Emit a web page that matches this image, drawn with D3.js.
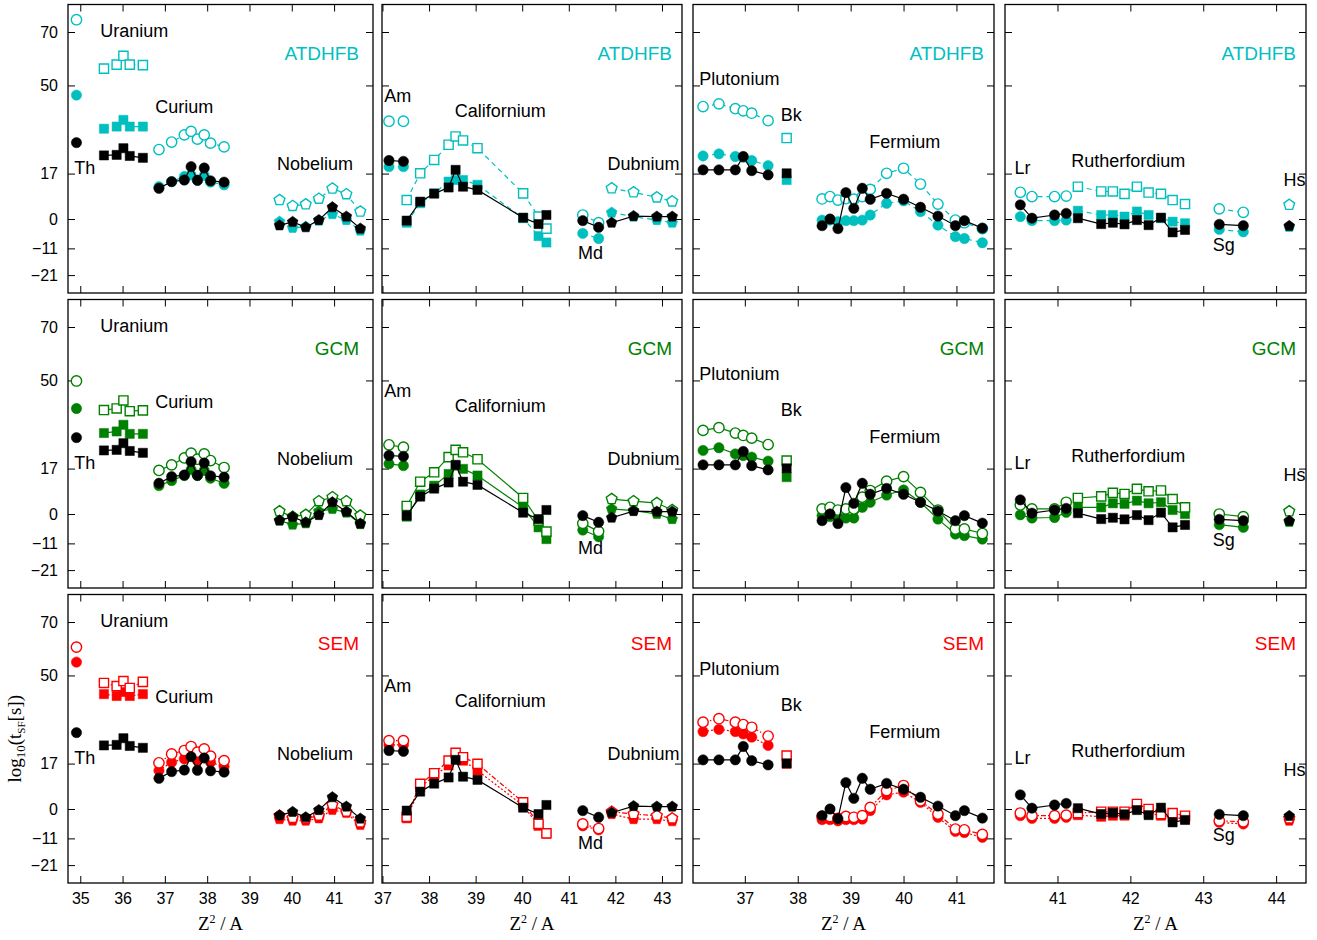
<!DOCTYPE html>
<html>
<head>
<meta charset="utf-8">
<script src="https://cdn.jsdelivr.net/npm/d3@7"></script>
<style>
body { margin: 0; background: #fff; }
svg { display: block; }
text { font-family: "Liberation Sans", Arial, Helvetica, sans-serif; fill: #000; }
.serif { font-family: "Liberation Serif", "Times New Roman", serif; }
</style>
</head>
<body>
<svg width="1317" height="940"></svg>
<script>
// x = Z^2/A of each isotope, exp = measured log10(t_SF),
// atd/gcm/sem = model values, F = filled markers, O = open markers

// Thorium
var thX = [34.91];
var thExp = [28.6];
var thAtdF = [46.4], thAtdO = [74.6];
var thGcmF = [39.5], thGcmO = [49.8];
var thSemF = [55.0], thSemO = [60.6];

// Uranium
var uX = [35.56, 35.86, 36.02, 36.17, 36.48];
var uExp = [23.8, 24.0, 26.5, 23.6, 22.9];
var uAtdF = [33.8, 34.6, 37.1, 34.6, 34.6];
var uAtdO = [56.3, 57.8, 61.1, 57.8, 57.6];
var uGcmF = [30.3, 30.9, 33.4, 30.0, 30.0];
var uGcmO = [38.9, 39.5, 42.5, 38.5, 38.8];
var uSemF = [43.0, 42.3, 43.8, 42.3, 43.0];
var uSemO = [47.2, 46.0, 47.9, 45.3, 47.6];

// Curium
var cmX = [36.86, 37.16, 37.46, 37.62, 37.77, 37.93, 38.08, 38.40];
var cmExp = [11.5, 14.0, 14.6, 19.6, 14.5, 19.1, 14.3, 13.8];
var cmAtdF = [12.1, 14.0, 15.9, 16.5, 14.5, 16.3, 13.8, 12.8];
var cmAtdO = [26.0, 28.8, 31.5, 32.8, 29.9, 31.5, 28.4, 27.0];
var cmGcmF = [10.6, 12.5, 14.4, 16.6, 14.4, 16.3, 13.4, 11.5];
var cmGcmO = [16.3, 18.4, 21.0, 22.8, 20.5, 22.5, 20.0, 17.4];
var cmSemF = [14.4, 17.5, 18.8, 20.6, 18.1, 20.0, 17.5, 15.9];
var cmSemO = [17.3, 20.6, 21.9, 23.4, 21.3, 22.5, 19.8, 18.1];

// Nobelium
var noX = [39.71, 40.02, 40.33, 40.64, 40.96, 41.29, 41.62];
var noExp = [-2.4, -1.1, -3.1, -0.4, 4.4, 0.9, -3.6];
var noAtdF = [-1.0, -3.3, -2.9, -0.6, 1.8, -0.4, -4.4];
var noAtdO = [7.1, 4.9, 5.5, 7.6, 11.4, 9.3, 2.8];
var noGcmF = [-2.5, -4.0, -3.5, 1.0, 1.9, 0.5, -3.8];
var noGcmO = [1.0, -1.0, -0.3, 4.8, 6.3, 4.8, -0.6];
var noSemF = [-3.8, -4.4, -4.4, -3.5, -0.3, -1.5, -6.0];
var noSemO = [-2.5, -3.3, -3.5, -2.5, 1.5, -1.0, -5.0];

// Americium
var amX = [37.14, 37.45];
var amExp = [21.9, 21.6];
var amAtdF = [19.6, 19.6], amAtdO = [36.6, 36.6];
var amGcmF = [18.8, 18.1], amGcmO = [25.9, 25.0];
var amSemF = [24.0, 24.0], amSemO = [25.6, 25.6];

// Californium
var cfX = [37.52, 37.81, 38.11, 38.42, 38.57, 38.73, 39.04, 40.02, 40.35, 40.52];
var cfExp = [-0.6, 6.5, 9.5, 11.8, 18.4, 12.1, 10.9, 0.5, -1.9, 1.5];
var cfAtdF = [-1.4, 5.9, 9.6, 14.0, 14.6, 14.6, 12.8, 0.3, -6.4, -8.8];
var cfAtdO = [7.1, 17.1, 22.1, 27.8, 30.9, 29.4, 26.5, 9.6, 0.9, -3.6];
var cfGcmF = [-1.0, 7.3, 10.6, 15.0, 18.1, 16.9, 14.4, 2.5, -5.0, -9.4];
var cfGcmO = [3.0, 12.1, 15.6, 21.3, 24.0, 23.1, 20.5, 6.0, -2.5, -6.6];
var cfSemF = [-3.5, 8.1, 12.5, 16.3, 19.4, 18.1, 14.4, 1.3, -6.3, -9.3];
var cfSemO = [-2.9, 9.4, 13.4, 18.1, 21.0, 19.4, 16.9, 2.5, -5.6, -9.1];

// Mendelevium
var mdX = [41.30, 41.64];
var mdExp = [-0.6, -3.1];
var mdAtdF = [-5.4, -7.3], mdAtdO = [1.5, -1.4];
var mdGcmF = [-6.0, -8.5], mdGcmO = [-3.5, -6.5];
var mdSemF = [-6.3, -7.8], mdSemO = [-5.6, -7.3];

// Dubnium
var dbX = [41.92, 42.39, 42.89, 43.22];
var dbExp = [-1.4, 1.1, 0.9, 0.9];
var dbAtdF = [2.4, 0.9, -0.4, -1.4];
var dbAtdO = [11.5, 10.0, 8.1, 6.6];
var dbGcmF = [1.9, 1.3, 0.0, -1.9];
var dbGcmO = [5.6, 4.8, 4.1, 1.5];
var dbSemF = [-1.9, -3.8, -3.8, -4.6];
var dbSemO = [-1.0, -1.9, -2.5, -3.5];

// Plutonium
var puX = [36.21, 36.51, 36.82, 36.97, 37.13, 37.44];
var puExp = [18.4, 18.4, 18.4, 23.4, 18.1, 16.5];
var puAtdF = [23.6, 24.4, 23.4, 23.1, 21.9, 20.0];
var puAtdO = [42.1, 43.1, 41.3, 40.5, 39.6, 36.8];
var puGcmF = [23.8, 24.8, 22.5, 21.9, 21.3, 19.8];
var puGcmO = [31.3, 32.3, 30.3, 29.4, 28.4, 26.0];
var puSemF = [29.0, 29.8, 29.0, 28.1, 26.9, 23.8];
var puSemO = [32.5, 33.8, 32.5, 31.6, 30.6, 27.3];

// Berkelium
var bkX = [37.79];
var bkExp = [17.1];
var bkAtdF = [14.6], bkAtdO = [30.3];
var bkGcmF = [13.8], bkGcmO = [20.0];
var bkSemF = [16.9], bkSemO = [20.0];

// Fermium
var fmX = [38.46, 38.61, 38.76, 38.91, 39.06, 39.22, 39.37, 39.68, 40.00, 40.32, 40.65, 40.98, 41.15, 41.49];
var fmExp = [-2.5, 0.0, -3.6, 9.9, 4.0, 11.5, 7.4, 9.6, 7.4, 4.4, 1.1, -2.5, -0.6, -3.4];
var fmAtdF = [-0.4, -0.4, -1.0, -0.6, -0.6, -0.4, 1.5, 5.9, 6.8, 2.8, -2.3, -6.6, -7.3, -8.9];
var fmAtdO = [7.5, 8.4, 7.1, 7.6, 7.4, 8.4, 11.1, 17.1, 19.0, 13.1, 5.6, -0.4, -1.4, -3.6];
var fmGcmF = [-0.6, -1.0, -1.3, -1.5, -1.5, 2.5, 4.4, 7.1, 9.0, 4.4, -1.9, -7.5, -8.1, -9.4];
var fmGcmO = [1.9, 2.5, 1.5, 1.9, 1.9, 6.3, 8.8, 12.3, 14.0, 8.1, 1.5, -5.6, -5.6, -7.3];
var fmSemF = [-4.0, -4.0, -4.4, -4.0, -4.0, -3.8, -0.6, 5.3, 6.3, 2.5, -3.1, -8.4, -8.8, -10.6];
var fmSemO = [-2.8, -2.8, -3.5, -2.8, -3.1, -2.5, 0.6, 6.9, 8.8, 3.1, -1.9, -7.5, -7.8, -9.5];

// Lawrencium
var lrX = [40.49, 40.65, 40.96, 41.12];
var lrExp = [5.3, 0.3, 1.5, 2.1];
var lrAtdF = [0.9, -0.6, -0.6, -0.4];
var lrAtdO = [10.0, 8.4, 8.4, 8.6];
var lrGcmF = [-0.3, -1.5, -1.3, 0.6];
var lrGcmO = [3.4, 1.9, 1.9, 4.4];
var lrSemF = [-2.5, -3.5, -3.5, -3.1];
var lrSemO = [-1.5, -2.5, -2.5, -2.3];

// Rutherfordium
var rfX = [41.28, 41.60, 41.76, 41.92, 42.09, 42.25, 42.42, 42.58, 42.75];
var rfExp = [0.3, -1.9, -1.4, -2.0, -0.4, -2.3, 0.5, -5.0, -4.1];
var rfAtdF = [3.1, 1.5, 1.5, 0.9, 2.8, 1.5, 0.3, -1.0, -1.6];
var rfAtdO = [12.1, 10.3, 10.3, 9.4, 12.1, 9.9, 9.4, 7.1, 5.6];
var rfGcmF = [2.5, 2.5, 4.0, 3.8, 5.0, 4.0, 4.4, 1.5, 0.0];
var rfGcmO = [6.0, 6.6, 7.9, 7.5, 9.4, 8.5, 8.8, 5.6, 2.5];
var rfSemF = [-2.3, -2.9, -2.5, -2.5, 0.3, -1.5, -2.5, -3.1, -3.8];
var rfSemO = [-1.5, -1.0, -1.0, -1.0, 1.9, 0.0, -1.9, -1.5, -2.5];

// Seaborgium
var sgX = [43.22, 43.55];
var sgExp = [-2.0, -2.5];
var sgAtdF = [-3.9, -4.8], sgAtdO = [3.8, 2.5];
var sgGcmF = [-4.0, -5.0], sgGcmO = [0.0, -1.0];
var sgSemF = [-5.0, -5.6], sgSemO = [-4.4, -4.8];

// Hassium
var hsX = [44.18];
var hsExp = [-2.6];
var hsAtdF = [-3.0], hsAtdO = [5.3];
var hsGcmF = [-3.0], hsGcmO = [1.0];
var hsSemF = [-4.4], hsSemO = [-3.5];

var yTicks = [70, 50, 17, 0, -11, -21];
var modelNames = ["ATDHFB", "GCM", "SEM"];

// which column, which marker, and the series of every element
var elements = [
    {col: 0, shape: "circle",   x: thX, exp: thExp, m: [[thAtdF, thAtdO], [thGcmF, thGcmO], [thSemF, thSemO]]},
    {col: 0, shape: "square",   x: uX,  exp: uExp,  m: [[uAtdF, uAtdO], [uGcmF, uGcmO], [uSemF, uSemO]]},
    {col: 0, shape: "circle",   x: cmX, exp: cmExp, m: [[cmAtdF, cmAtdO], [cmGcmF, cmGcmO], [cmSemF, cmSemO]]},
    {col: 0, shape: "pentagon", x: noX, exp: noExp, m: [[noAtdF, noAtdO], [noGcmF, noGcmO], [noSemF, noSemO]]},
    {col: 1, shape: "circle",   x: amX, exp: amExp, m: [[amAtdF, amAtdO], [amGcmF, amGcmO], [amSemF, amSemO]]},
    {col: 1, shape: "square",   x: cfX, exp: cfExp, m: [[cfAtdF, cfAtdO], [cfGcmF, cfGcmO], [cfSemF, cfSemO]]},
    {col: 1, shape: "circle",   x: mdX, exp: mdExp, m: [[mdAtdF, mdAtdO], [mdGcmF, mdGcmO], [mdSemF, mdSemO]]},
    {col: 1, shape: "pentagon", x: dbX, exp: dbExp, m: [[dbAtdF, dbAtdO], [dbGcmF, dbGcmO], [dbSemF, dbSemO]]},
    {col: 2, shape: "circle",   x: puX, exp: puExp, m: [[puAtdF, puAtdO], [puGcmF, puGcmO], [puSemF, puSemO]]},
    {col: 2, shape: "square",   x: bkX, exp: bkExp, m: [[bkAtdF, bkAtdO], [bkGcmF, bkGcmO], [bkSemF, bkSemO]]},
    {col: 2, shape: "circle",   x: fmX, exp: fmExp, m: [[fmAtdF, fmAtdO], [fmGcmF, fmGcmO], [fmSemF, fmSemO]]},
    {col: 3, shape: "circle",   x: lrX, exp: lrExp, m: [[lrAtdF, lrAtdO], [lrGcmF, lrGcmO], [lrSemF, lrSemO]]},
    {col: 3, shape: "square",   x: rfX, exp: rfExp, m: [[rfAtdF, rfAtdO], [rfGcmF, rfGcmO], [rfSemF, rfSemO]]},
    {col: 3, shape: "circle",   x: sgX, exp: sgExp, m: [[sgAtdF, sgAtdO], [sgGcmF, sgGcmO], [sgSemF, sgSemO]]},
    {col: 3, shape: "pentagon", x: hsX, exp: hsExp, m: [[hsAtdF, hsAtdO], [hsGcmF, hsGcmO], [hsSemF, hsSemO]]}
];

// element names, placed in data coordinates (text baseline)
var elementLabels = [
    {col: 0, text: "Uranium", x: 35.47, y: 68},
    {col: 0, text: "Curium", x: 36.77, y: 39.7},
    {col: 0, text: "Th", x: 34.86, y: 16.9},
    {col: 0, text: "Nobelium", x: 39.65, y: 18.4},
    {col: 1, text: "Am", x: 37.04, y: 43.9},
    {col: 1, text: "Californium", x: 38.55, y: 38.3},
    {col: 1, text: "Dubnium", x: 41.83, y: 18.4},
    {col: 1, text: "Md", x: 41.2, y: -15.1},
    {col: 2, text: "Plutonium", x: 36.14, y: 50.2},
    {col: 2, text: "Bk", x: 37.68, y: 36.8},
    {col: 2, text: "Fermium", x: 39.35, y: 26.5},
    {col: 3, text: "Lr", x: 40.41, y: 16.9},
    {col: 3, text: "Rutherfordium", x: 41.19, y: 19.6},
    {col: 3, text: "Sg", x: 43.13, y: -11.9},
    {col: 3, text: "Hs", x: 44.1, y: 12.4}
];

// ---- layout / styles ----
var cols = [
    {left: 68,   right: 373,  domain: [34.71, 41.92], labelPad: 14},
    {left: 382,  right: 682,  domain: [36.99, 43.43], labelPad: 10},
    {left: 693,  right: 994,  domain: [36.02, 41.71], labelPad: 10},
    {left: 1005, right: 1306, domain: [40.28, 44.41], labelPad: 10}
];
var rows = [
    {top: 4.5,   color: "#00bfbf", dashF: "5,4", dashO: "5,4"},
    {top: 299.5, color: "#008000", dashF: null,  dashO: null},
    {top: 594.5, color: "#ff0000", dashF: "2,2", dashO: "5,2,1.5,2"}
];
var rowHeight = 288.5;
var yDomain = [-27.7, 80.3];

var svg = d3.select("svg"),
    width = +svg.attr("width"),
    height = +svg.attr("height");

var pentagon = {
    draw: function(context, size) {
        var r = Math.sqrt(size / 2.378);
        for (var i = 0; i < 5; i++) {
            var a = -Math.PI / 2 + i * 2 * Math.PI / 5;
            if (i === 0) context.moveTo(r * Math.cos(a), r * Math.sin(a));
            else context.lineTo(r * Math.cos(a), r * Math.sin(a));
        }
        context.closePath();
    }
};

function symbolPath(shape) {
    if (shape === "square") return d3.symbol().type(d3.symbolSquare).size(84)();
    if (shape === "pentagon") return d3.symbol().type(pentagon).size(76)();
    return d3.symbol().type(d3.symbolCircle).size(84)();
}

function drawSeries(g, x, y, xs, ys, shape, color, filled, dash) {
    var pts = xs.map(function(d, i) { return [d, ys[i]]; });
    var line = d3.line()
        .x(function(d) { return x(d[0]); })
        .y(function(d) { return y(d[1]); });
    if (pts.length > 1) {
        g.append("path")
            .attr("d", line(pts))
            .attr("fill", "none")
            .attr("stroke", color)
            .attr("stroke-width", 1.2)
            .attr("stroke-dasharray", dash);
    }
    g.selectAll(null)
        .data(pts)
        .enter()
        .append("path")
        .attr("d", symbolPath(shape))
        .attr("transform", function(d) { return "translate(" + x(d[0]) + "," + y(d[1]) + ")"; })
        .attr("fill", filled ? color : "#fff")
        .attr("stroke", color)
        .attr("stroke-width", filled ? 0.5 : 1.4);
}

rows.forEach(function(row, ri) {
    var y = d3.scaleLinear().domain(yDomain).range([row.top + rowHeight, row.top]);

    cols.forEach(function(col, ci) {
        var x = d3.scaleLinear().domain(col.domain).range([col.left, col.right]);
        var xTicks = d3.range(Math.ceil(col.domain[0]), Math.floor(col.domain[1]) + 1);
        var panel = svg.append("g");

        // ticks pointing inwards on all four sides
        panel.append("g")
            .attr("transform", "translate(0," + (row.top + rowHeight) + ")")
            .call(d3.axisBottom(x).tickValues(xTicks).tickSizeInner(-7).tickSizeOuter(0).tickPadding(9.5)
                .tickFormat(ri === 2 ? d3.format("d") : ""));
        panel.append("g")
            .attr("transform", "translate(0," + row.top + ")")
            .call(d3.axisTop(x).tickValues(xTicks).tickSizeInner(-7).tickSizeOuter(0).tickFormat(""));
        panel.append("g")
            .attr("transform", "translate(" + col.left + ",0)")
            .call(d3.axisLeft(y).tickValues(yTicks).tickSizeInner(-7).tickSizeOuter(0).tickPadding(10)
                .tickFormat(ci === 0 ? d3.format("d") : ""));
        panel.append("g")
            .attr("transform", "translate(" + col.right + ",0)")
            .call(d3.axisRight(y).tickValues(yTicks).tickSizeInner(-7).tickSizeOuter(0).tickFormat(""));
        panel.selectAll(".domain").remove();
        panel.selectAll(".tick line").attr("stroke", "#000").attr("stroke-width", 1);
        panel.selectAll(".tick text")
            .style("font-family", "'Liberation Sans', Arial, sans-serif")
            .style("font-size", "16px")
            .attr("fill", "#000");

        panel.append("rect")
            .attr("x", col.left)
            .attr("y", row.top)
            .attr("width", col.right - col.left)
            .attr("height", rowHeight)
            .attr("fill", "none")
            .attr("stroke", "#000")
            .attr("stroke-width", 1.3);

        var marks = panel.append("g");
        elements.filter(function(e) { return e.col === ci; }).forEach(function(e) {
            var s = e.m[ri];
            drawSeries(marks, x, y, e.x, s[0], e.shape, row.color, true, row.dashF);
            drawSeries(marks, x, y, e.x, s[1], e.shape, row.color, false, row.dashO);
            drawSeries(marks, x, y, e.x, e.exp, e.shape, "#000", true, null);
        });

        panel.selectAll(null)
            .data(elementLabels.filter(function(d) { return d.col === ci; }))
            .enter()
            .append("text")
            .attr("x", function(d) { return x(d.x); })
            .attr("y", function(d) { return y(d.y); })
            .style("font-size", "18px")
            .text(function(d) { return d.text; });

        panel.append("text")
            .attr("x", col.right - col.labelPad)
            .attr("y", row.top + 55)
            .attr("text-anchor", "end")
            .style("font-size", "19px")
            .style("fill", row.color)
            .text(modelNames[ri]);

        if (ri === 2) {
            var xl = panel.append("text")
                .attr("class", "serif")
                .attr("x", (col.left + col.right) / 2)
                .attr("y", 930)
                .attr("text-anchor", "middle")
                .style("font-size", "19px");
            xl.append("tspan").text("Z");
            xl.append("tspan").attr("dy", -7).style("font-size", "12px").text("2");
            xl.append("tspan").attr("dy", 7).text(" / A");
        }
    });
});

// y axis title
var yl = svg.append("text")
    .attr("class", "serif")
    .attr("transform", "translate(21," + (rows[2].top + rowHeight / 2) + ") rotate(-90)")
    .attr("text-anchor", "middle")
    .style("font-size", "19px");
yl.append("tspan").text("log");
yl.append("tspan").attr("dy", 4).style("font-size", "13px").text("10");
yl.append("tspan").attr("dy", -4).text("(t");
yl.append("tspan").attr("dy", 4).style("font-size", "11px").text("SF");
yl.append("tspan").attr("dy", -4).text("[s])");
</script>
</body>
</html>
